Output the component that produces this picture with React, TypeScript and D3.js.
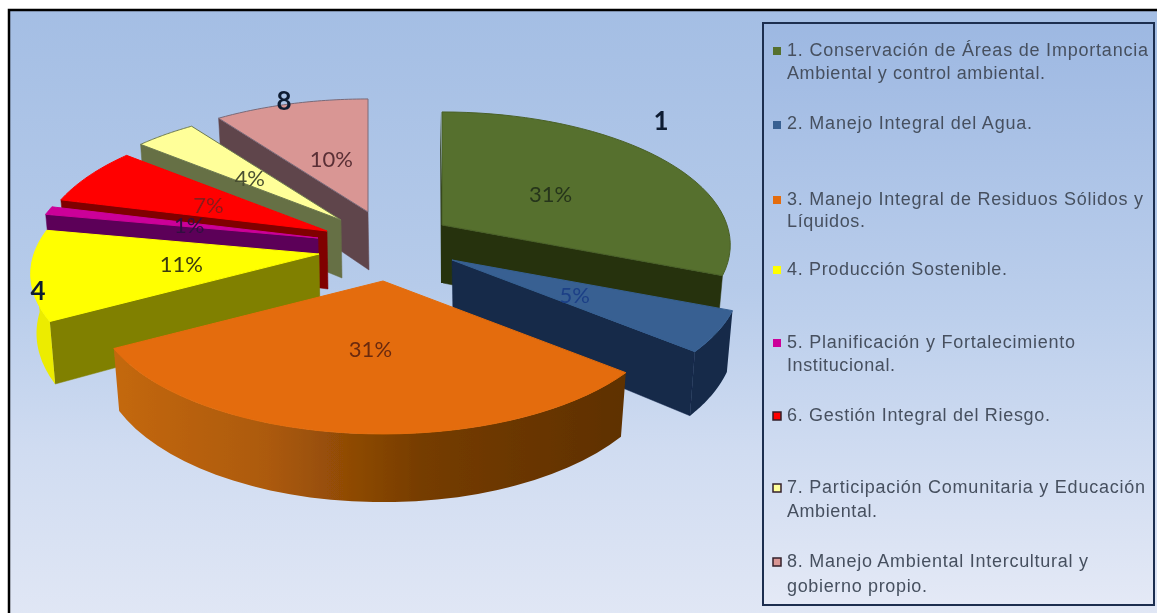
import React from "react";
import * as d3 from "d3";

const categories = ["1", "2", "3", "4", "5", "6", "7", "8"];
const shares = [31, 5, 31, 11, 1, 7, 4, 10];
const percentLabels = ["31%", "5%", "31%", "11%", "1%", "7%", "4%", "10%"];
const topColors = ["#566f2e", "#376092", "#e46c0a", "#ffff00", "#cc0099", "#ff0000", "#ffff99", "#d99694"];
const wallColors = ["#27330f", "#14294a", "#8a4a08", "#808000", "#5c0058", "#800000", "#666f45", "#5f454c"];
const rimColors = ["#27330f", "#14294a", "url(#orangeWall)", "#ecec00", "#5c0058", "#800000", "#666f45", "#5f454c"];
const percentColors = ["#26351a", "#1d3f86", "#6b2a10", "#3a3a10", "#301040", "#8a1a1a", "#4a5030", "#5a2f35"];
const legendLines = [
  ["1. Conservación de Áreas de Importancia", "Ambiental y control ambiental."],
  ["2. Manejo Integral del Agua."],
  ["3. Manejo Integral de Residuos Sólidos y", "Líquidos."],
  ["4. Producción Sostenible."],
  ["5. Planificación y Fortalecimiento", "Institucional."],
  ["6. Gestión Integral del Riesgo."],
  ["7. Participación Comunitaria y Educación", "Ambiental."],
  ["8. Manejo Ambiental Intercultural y", "gobierno propio."],
];

// layout
const W = 1157, H = 613;
const RX = 285, RY = 130, PERSP = 0.15, DEPTH = 58, CONTRACT = 0.98;
const apex: [number, number][] = [[442, 225], [452, 260], [383, 281], [319, 254], [318, 238], [327, 231], [341, 220], [368, 212]];
const labelNudge: [number, number][] = [[2, 4], [3, 5], [1, 5], [-4, 3], [0, 3], [-3, 3], [-4, 3], [2, 4]];
const paintOrder = [7, 6, 5, 4, 3, 0, 1, 2];
const legendRowY = [56, 130, 205, 275, 348, 421, 493, 567];
const legendLineY = [[56, 79], [129], [205, 227], [275], [348, 371], [421], [493, 517], [567, 592]];
const legendWidths = [[361, 258], [245], [356, 78], [220], [288, 108], [263], [358, 90], [301, 140]];
const catLabels: { i: number; x: number; y: number }[] = [
  { i: 0, x: 661, y: 123 },
  { i: 7, x: 284, y: 103 },
  { i: 3, x: 38, y: 293 },
];

function rim(a: number, r = 1) {
  const s = 1 / (1 + PERSP * r * Math.cos(a));
  return { dx: RX * r * Math.sin(a) * s, dy: -RY * r * Math.cos(a) * s, s };
}
const line = d3.line();
const TAU = Math.PI * 2;

function Slice({ i, arc }: { i: number; arc: d3.PieArcDatum<number> }) {
  const [ax, ay] = apex[i];
  const a0 = arc.startAngle, a1 = arc.endAngle;
  const steps = d3.range(0, 41).map((k) => a0 + ((a1 - a0) * k) / 40);
  const top = (a: number): [number, number] => {
    const p = rim(a);
    return [ax + p.dx, ay + p.dy];
  };
  const bottom = (a: number): [number, number] => {
    const p = rim(a);
    return [ax + p.dx * CONTRACT, ay + p.dy + DEPTH * p.s];
  };
  const apexB: [number, number] = [ax + 1, ay + DEPTH];
  const topPts: [number, number][] = [[ax, ay], ...steps.map(top)];
  const lo = Math.max(a0, Math.PI / 2), hi = Math.min(a1, (3 * Math.PI) / 2);
  const showRim = hi > lo && i !== 0;
  const rimSteps = showRim ? d3.range(0, 31).map((k) => lo + ((hi - lo) * k) / 30) : [];
  const rimPts = [...rimSteps.map(top), ...rimSteps.slice().reverse().map(bottom)];
  const mid = (a0 + a1) / 2;
  const radialA = mid < Math.PI ? a1 : a0;
  const radial: [number, number][] = [[ax, ay], top(radialA), bottom(radialA), apexB];
  const sliver: [number, number][] | null =
    i === 0 ? [[ax - 2, ay - 113], [ax - 1, ay + DEPTH], [ax + 4, ay + DEPTH], [ax + 1, ay]] : null;
  return (
    <g>
      {i !== 2 && <path d={line(radial)! + "Z"} fill={wallColors[i]} stroke={wallColors[i]} strokeWidth={0.5} />}
      {sliver && <path d={line(sliver)! + "Z"} fill={wallColors[i]} />}
      {showRim && <path d={line(rimPts)! + "Z"} fill={rimColors[i]} stroke="none" />}
      <path
        d={line(topPts)! + "Z"}
        fill={topColors[i]}
        stroke={i === 7 ? "#7a6a78" : i === 6 ? "#6d7a50" : i === 0 ? "#4a6128" : topColors[i]}
        strokeWidth={1}
      />
    </g>
  );
}

export default function App() {
  const pie = d3.pie<number>().sort(null).startAngle(0).endAngle(TAU);
  const arcs = pie(shares);
  const font = "'Liberation Sans', Arial, sans-serif";
  const labelFont = "Lato, 'Open Sans', sans-serif";
  return (
    <svg
      width={W}
      height={H}
      viewBox={`0 0 ${W} ${H}`}
      style={{ position: "fixed", left: 0, top: 0, display: "block", background: "#fff" }}
    >
      <defs>
        <linearGradient id="bg" x1="0" y1="0" x2="0" y2="1">
          <stop offset="0" stopColor="#a4bee4" />
          <stop offset="0.45" stopColor="#b6cbea" />
          <stop offset="0.72" stopColor="#d0dcf1" />
          <stop offset="1" stopColor="#e1e7f5" />
        </linearGradient>
        <linearGradient id="legendBg" x1="0" y1="0" x2="0" y2="1">
          <stop offset="0" stopColor="#9db8e2" />
          <stop offset="0.5" stopColor="#bccfec" />
          <stop offset="1" stopColor="#e4e9f6" />
        </linearGradient>
        <linearGradient id="orangeWall" gradientUnits="userSpaceOnUse" x1="113" y1="0" x2="630" y2="0">
          <stop offset="0" stopColor="#c4680f" />
          <stop offset="0.3" stopColor="#ac5a0a" />
          <stop offset="0.6" stopColor="#753c02" />
          <stop offset="1" stopColor="#5e3000" />
        </linearGradient>
        <filter id="soft" x="-2%" y="-2%" width="104%" height="104%">
          <feGaussianBlur stdDeviation="0.6" />
        </filter>
      </defs>
      <g filter="url(#soft)">
        <rect x={9} y={10} width={W} height={H} fill="url(#bg)" stroke="#000" strokeWidth={2.5} />
        <rect x={763} y={23} width={391} height={582} fill="url(#legendBg)" stroke="#1c2f50" strokeWidth={2} />
        {paintOrder.map((i) => (
          <Slice key={i} i={i} arc={arcs[i]} />
        ))}
        {arcs.map((arc, i) => {
          const mid = (arc.startAngle + arc.endAngle) / 2;
          const p = rim(mid, 0.47);
          return (
            <text
              key={i}
              x={apex[i][0] + p.dx + labelNudge[i][0]}
              y={apex[i][1] + p.dy + labelNudge[i][1]}
              textAnchor="middle"
              dominantBaseline="middle"
              fontFamily={labelFont}
              fontSize={22}
              fill={percentColors[i]}
            >
              {percentLabels[i]}
            </text>
          );
        })}
        {catLabels.map((c) => (
          <text
            key={c.i}
            x={c.x}
            y={c.y}
            textAnchor="middle"
            dominantBaseline="middle"
            fontFamily={labelFont}
            fontWeight={700}
            fontSize={26}
            fill="#111c30"
          >
            {categories[c.i]}
          </text>
        ))}
        {legendLines.map((lines, i) => (
          <g key={i}>
            <rect
              x={773}
              y={legendRowY[i] - 9}
              width={8}
              height={8}
              fill={topColors[i]}
              stroke={i >= 5 ? "#33202a" : "none"}
              strokeWidth={i >= 5 ? 1.5 : 0}
            />
            {lines.map((t, j) => (
              <text
                key={j}
                x={787}
                y={legendLineY[i][j]}
                fontFamily={font}
                fontSize={18}
                fill="#46505f"
                textLength={legendWidths[i][j]}
                lengthAdjust="spacing"
              >
                {t}
              </text>
            ))}
          </g>
        ))}
      </g>
    </svg>
  );
}
